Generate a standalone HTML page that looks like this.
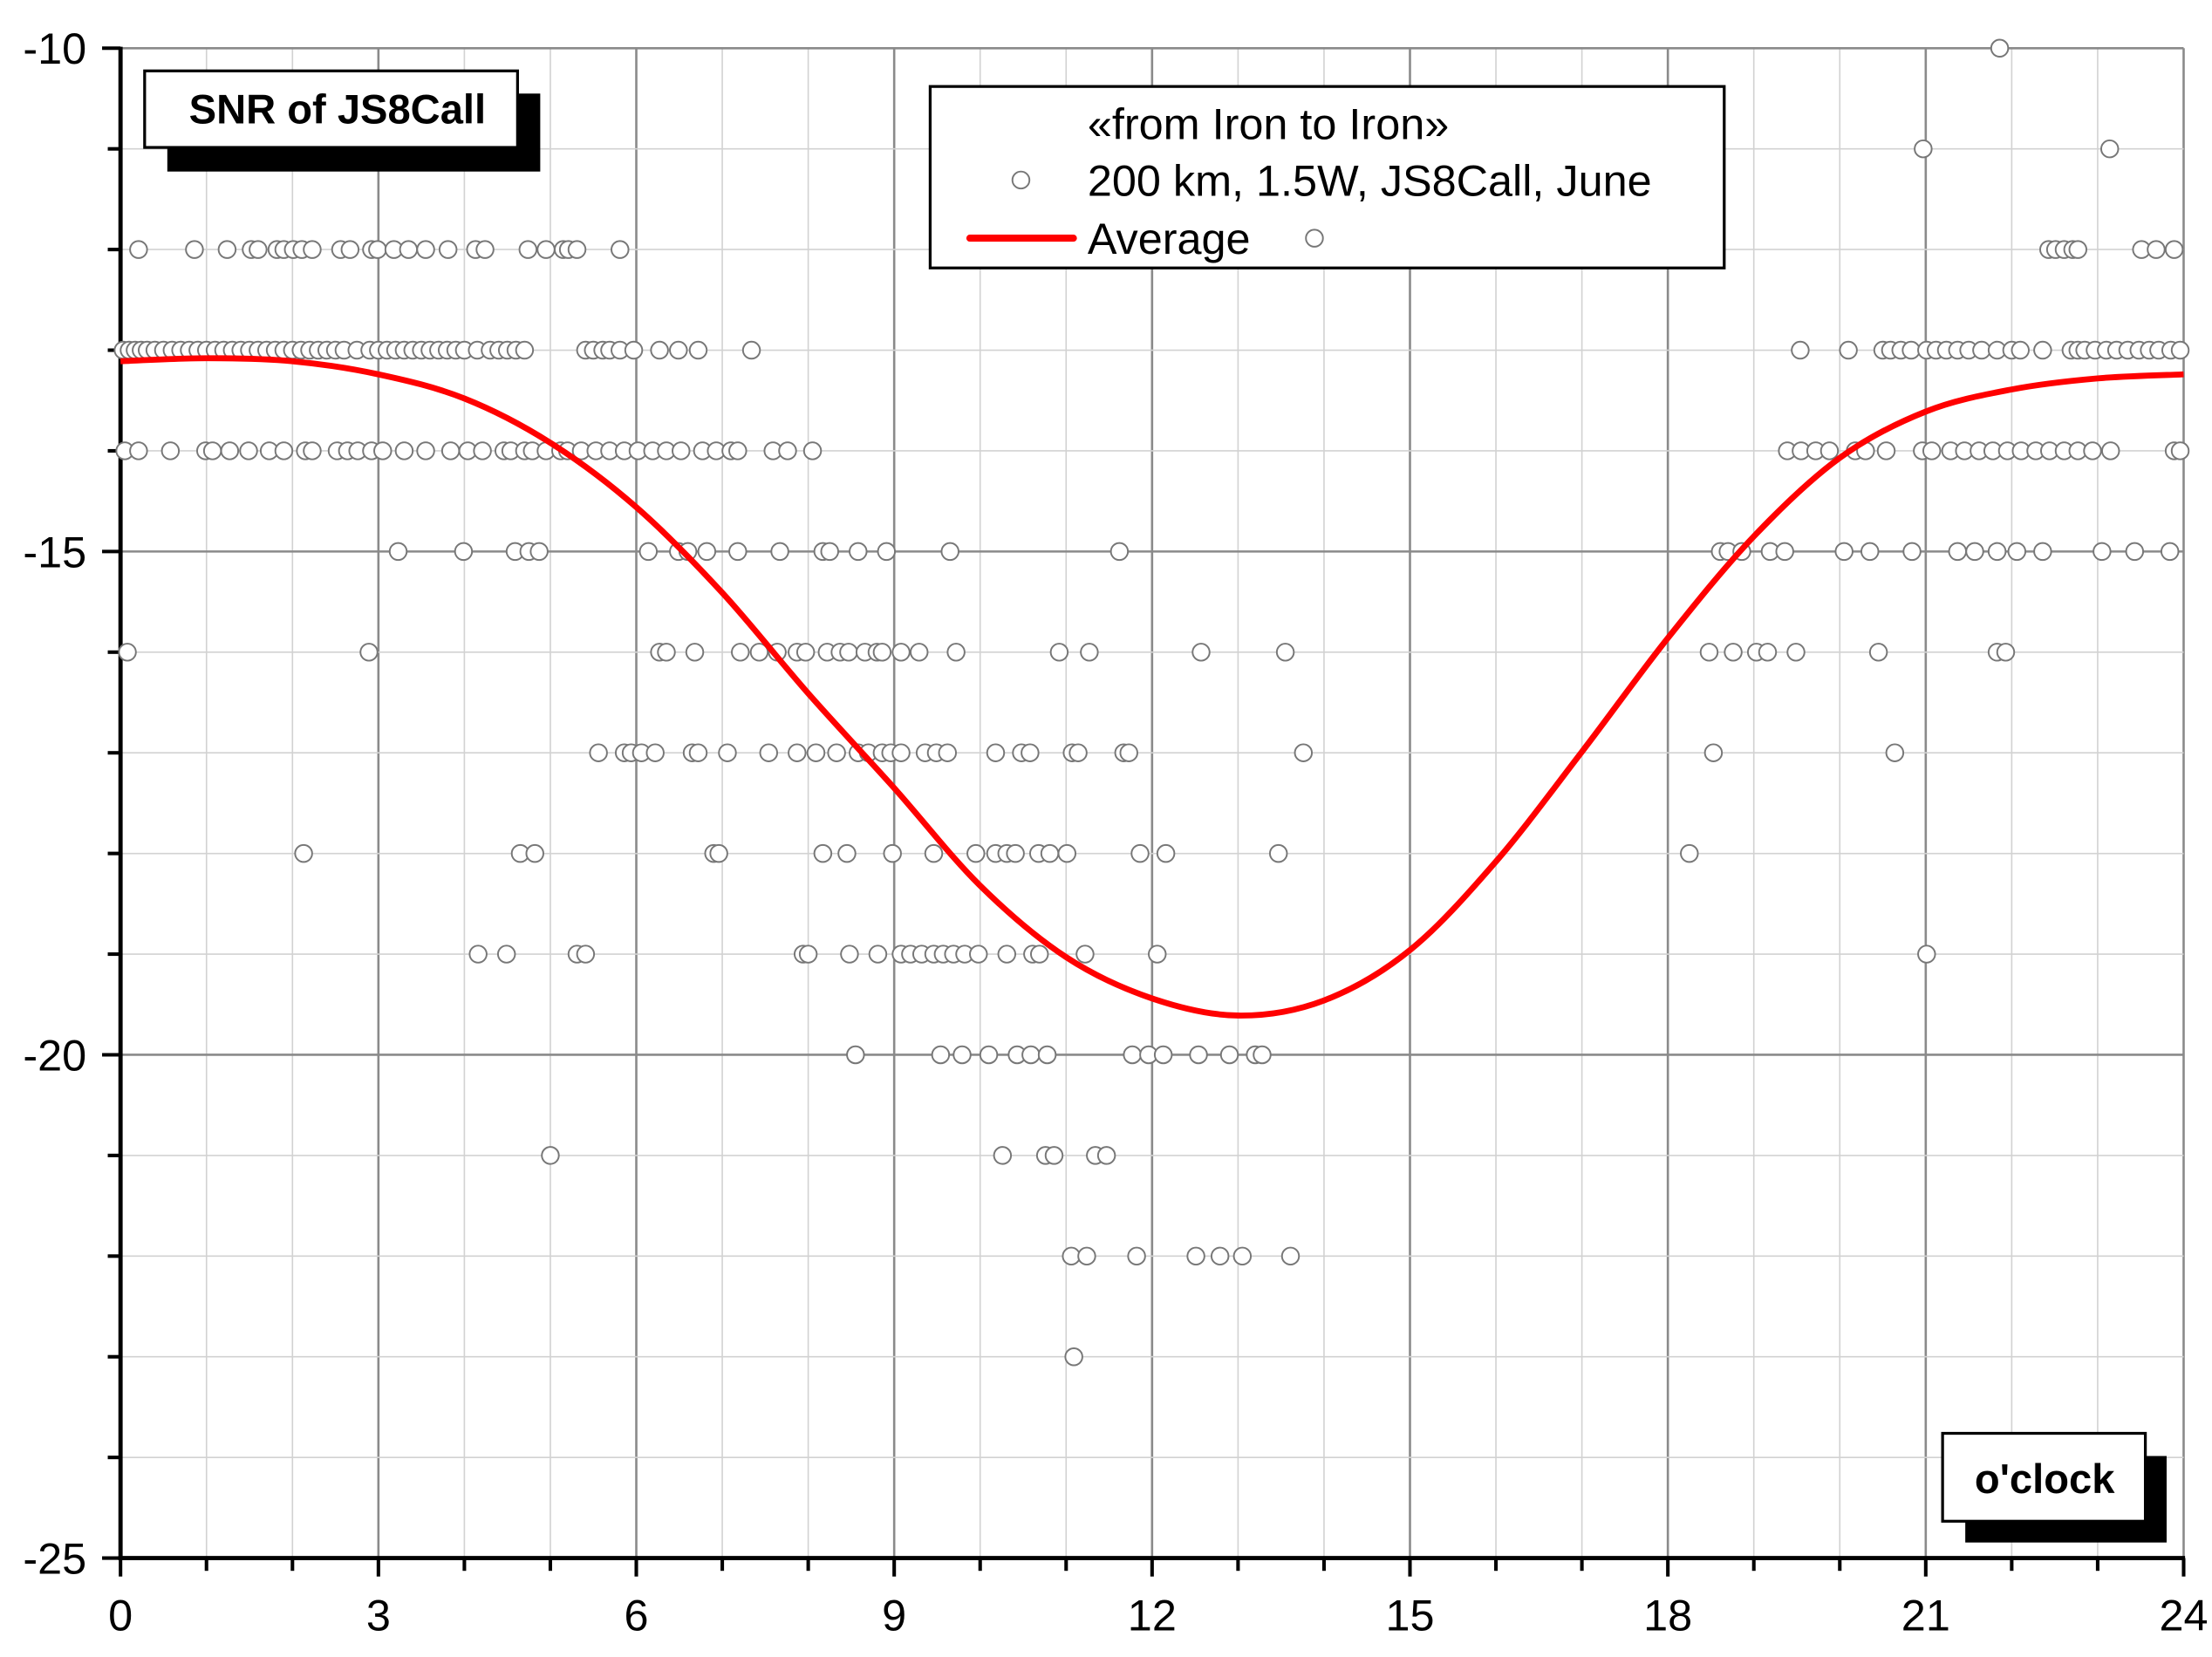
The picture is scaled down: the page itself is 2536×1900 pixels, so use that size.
<!DOCTYPE html>
<html><head><meta charset="utf-8"><style>
html,body{margin:0;padding:0;background:#fff;}
svg{display:block;}
text{font-family:"Liberation Sans",Arial,sans-serif;}
</style></head><body>
<svg id="chart" width="2536" height="1900" viewBox="0 0 1560 1168.77" xmlns="http://www.w3.org/2000/svg">
<g id="grid"></g>
<g id="axes"></g>
<g id="points"></g>
<g id="avg"></g>
<g>
<rect x="118" y="66" width="263" height="55" fill="#000"/>
<rect x="102" y="50" width="263" height="54" fill="#fff" stroke="#000" stroke-width="2"/>
<text x="238" y="87" font-size="29" font-weight="bold" text-anchor="middle">SNR of JS8Call</text>
</g>
<g>
<rect x="656" y="61" width="560" height="128" fill="#fff" stroke="#000" stroke-width="2"/>
<text x="767" y="98" font-size="31">«from Iron to Iron»</text>
<circle cx="720" cy="127" r="6" fill="#fff" stroke="#777" stroke-width="1.2"/>
<text x="767" y="138" font-size="31">200 km, 1.5W, JS8Call, June</text>
<line x1="684" y1="168" x2="757" y2="168" stroke="#f00" stroke-width="5" stroke-linecap="round"/>
<text x="767" y="179" font-size="31">Average</text>
<circle cx="927" cy="168" r="6" fill="#fff" stroke="#777" stroke-width="1.2"/>
</g>
<g>
<rect x="1386" y="1027" width="142" height="61" fill="#000"/>
<rect x="1370" y="1011" width="143" height="62" fill="#fff" stroke="#000" stroke-width="2"/>
<text x="1442" y="1053" font-size="29" font-weight="bold" text-anchor="middle">o'clock</text>
</g>
</svg>
<script>
const xTicks=[0,3,6,9,12,15,18,21,24];
const yTicks=[-10,-15,-20,-25];
const r10=[21.86];
const r11=[20.97,23.14];
const r12=[0.21,0.86,1.24,1.52,1.60,1.82,1.90,2.01,2.11,2.23,2.56,2.67,2.92,2.99,3.18,3.35,3.55,3.81,4.13,4.24,4.74,4.95,5.15,5.21,5.31,5.81,22.43,22.51,22.61,22.71,22.77,23.51,23.68,23.89];
const r13=[0.03,0.1,0.17,0.24,0.31,0.4,0.5,0.6,0.7,0.8,0.9,1.0,1.1,1.2,1.3,1.4,1.5,1.6,1.7,1.8,1.9,2.0,2.1,2.2,2.3,2.4,2.5,2.6,2.75,2.9,3.0,3.1,3.2,3.3,3.4,3.5,3.6,3.7,3.8,3.9,4.0,4.15,4.3,4.4,4.5,4.6,4.7,5.41,5.50,5.61,5.69,5.81,5.97,6.27,6.49,6.72,7.34,19.54,20.10,20.50,20.59,20.71,20.83,21.01,21.12,21.24,21.37,21.50,21.65,21.83,22.00,22.10,22.36,22.69,22.77,22.85,22.97,23.10,23.22,23.35,23.48,23.60,23.71,23.85,23.96];
const r14=[0.05,0.21,0.58,0.99,1.07,1.27,1.49,1.73,1.90,2.15,2.23,2.52,2.64,2.76,2.92,3.05,3.30,3.55,3.84,4.04,4.21,4.46,4.54,4.70,4.79,4.95,5.12,5.20,5.36,5.53,5.69,5.86,6.02,6.19,6.35,6.52,6.77,6.93,7.10,7.18,7.59,7.76,8.05,19.39,19.55,19.72,19.88,20.18,20.30,20.54,20.96,21.07,21.29,21.45,21.62,21.78,21.95,22.11,22.28,22.44,22.61,22.77,22.94,23.15,23.89,23.96];
const r15=[3.23,3.99,4.59,4.75,4.87,6.14,6.49,6.60,6.82,7.18,7.67,8.17,8.25,8.58,8.91,9.65,11.62,18.61,18.70,18.86,19.19,19.36,20.05,20.35,20.84,21.37,21.57,21.83,22.06,22.36,23.05,23.43,23.84];
const r16=[0.08,2.89,6.27,6.35,6.68,7.21,7.43,7.64,7.87,7.97,8.22,8.37,8.47,8.66,8.80,8.86,9.08,9.29,9.72,10.92,11.27,12.57,13.55,18.48,18.76,19.03,19.16,19.49,20.45,21.83,21.93];
const r17=[5.56,5.86,5.94,6.06,6.22,6.65,6.72,7.06,7.54,7.87,8.09,8.33,8.58,8.70,8.86,8.96,9.08,9.36,9.49,9.62,10.18,10.48,10.58,11.07,11.14,11.67,11.73,13.76,18.53,20.64];
const r18=[2.13,4.65,4.82,6.90,6.96,8.17,8.45,8.98,9.46,9.95,10.18,10.31,10.41,10.68,10.81,11.01,11.86,12.16,13.47,18.25];
const r19=[4.16,4.49,5.31,5.41,7.94,8.00,8.48,8.81,9.08,9.19,9.32,9.46,9.57,9.69,9.82,9.98,10.31,10.61,10.69,11.22,12.06,21.01];
const r20=[8.55,9.54,9.79,10.10,10.43,10.59,10.78,11.77,11.96,12.13,12.54,12.90,13.20,13.28];
const r21=[5.00,10.26,10.76,10.86,11.34,11.47];
const r22=[11.06,11.24,11.82,12.51,12.79,13.05,13.61];
const r23=[11.09];
const avgHours=[0,1,2,3,4,5,6,7,8,9,10,11,12,13,14,15,16,17,18,19,20,21,22,23,24];
const avgValues=[-13.11,-13.08,-13.11,-13.24,-13.48,-13.92,-14.56,-15.41,-16.41,-17.35,-18.32,-19.03,-19.44,-19.61,-19.46,-18.96,-18.08,-16.99,-15.86,-14.85,-14.07,-13.61,-13.39,-13.28,-13.24];

const NS='http://www.w3.org/2000/svg';
const X0=85,X1=1540,Y0=34,Y1=1099;
function sx(h){return X0+(h-0)/(24-0)*(X1-X0);}
function sy(v){return Y0+(-10-v)/(15)*(Y1-Y0);}
function mk(tag,attrs,parent){const e=document.createElementNS(NS,tag);for(const k in attrs)e.setAttribute(k,attrs[k]);parent.appendChild(e);return e;}
const grid=document.getElementById('grid'),axes=document.getElementById('axes');
for(let h=1;h<=24;h++){const major=h%3===0;const l=mk('line',{x1:sx(h),x2:sx(h),y1:Y0,y2:Y1,stroke:major?'#8a8a8a':'#d2d2d2','stroke-width':major?1.6:1},grid);

}
for(let v=-10;v>-25;v--){const major=v%5===0;const l=mk('line',{x1:X0,x2:X1,y1:sy(v),y2:sy(v),stroke:major?'#8a8a8a':'#d2d2d2','stroke-width':major?1.6:1},grid);

}
const ya=mk('line',{x1:X0,x2:X0,y1:Y0-1,y2:Y1+1.5,stroke:'#000','stroke-width':3},axes);


const xa=mk('line',{x1:X0-1.5,x2:X1+1,y1:Y1,y2:Y1,stroke:'#000','stroke-width':3},axes);


for(let h=0;h<=24;h++){const major=h%3===0;const t=mk('line',{x1:sx(h),x2:sx(h),y1:Y1,y2:Y1+(major?13:9),stroke:'#000','stroke-width':2.5},axes);

}
for(let v=-10;v>=-25;v--){const major=v%5===0;const t=mk('line',{x1:X0-(major?13:9),x2:X0,y1:sy(v),y2:sy(v),stroke:'#000','stroke-width':2.5},axes);

}
xTicks.forEach(h=>{const t=mk('text',{x:sx(h),y:Y1+51,'font-size':31,'text-anchor':'middle'},axes);t.textContent=h;

});
yTicks.forEach(v=>{const t=mk('text',{x:X0-24,y:sy(v)+11,'font-size':31,'text-anchor':'end'},axes);t.textContent=v;

});
const pts=document.getElementById('points');
const rows=[[-10,r10],[-11,r11],[-12,r12],[-13,r13],[-14,r14],[-15,r15],[-16,r16],[-17,r17],[-18,r18],[-19,r19],[-20,r20],[-21,r21],[-22,r22],[-23,r23]];
rows.forEach(([v,arr])=>arr.forEach(h=>{const c=mk('circle',{cx:sx(h),cy:sy(v),r:6,fill:'#fff',stroke:'#777','stroke-width':1.2},pts);

}));
const P=avgHours.map((h,i)=>[sx(h),sy(avgValues[i])]);
let d='M'+P[0][0]+','+P[0][1];
for(let i=0;i<P.length-1;i++){const p0=P[Math.max(0,i-1)],p1=P[i],p2=P[i+1],p3=P[Math.min(P.length-1,i+2)];
d+=' C'+(p1[0]+(p2[0]-p0[0])/6)+','+(p1[1]+(p2[1]-p0[1])/6)+' '+(p2[0]-(p3[0]-p1[0])/6)+','+(p2[1]-(p3[1]-p1[1])/6)+' '+p2[0]+','+p2[1];}
const path=mk('path',{d:d,fill:'none',stroke:'#f00','stroke-width':4.2},document.getElementById('avg'));


</script>
</body></html>
